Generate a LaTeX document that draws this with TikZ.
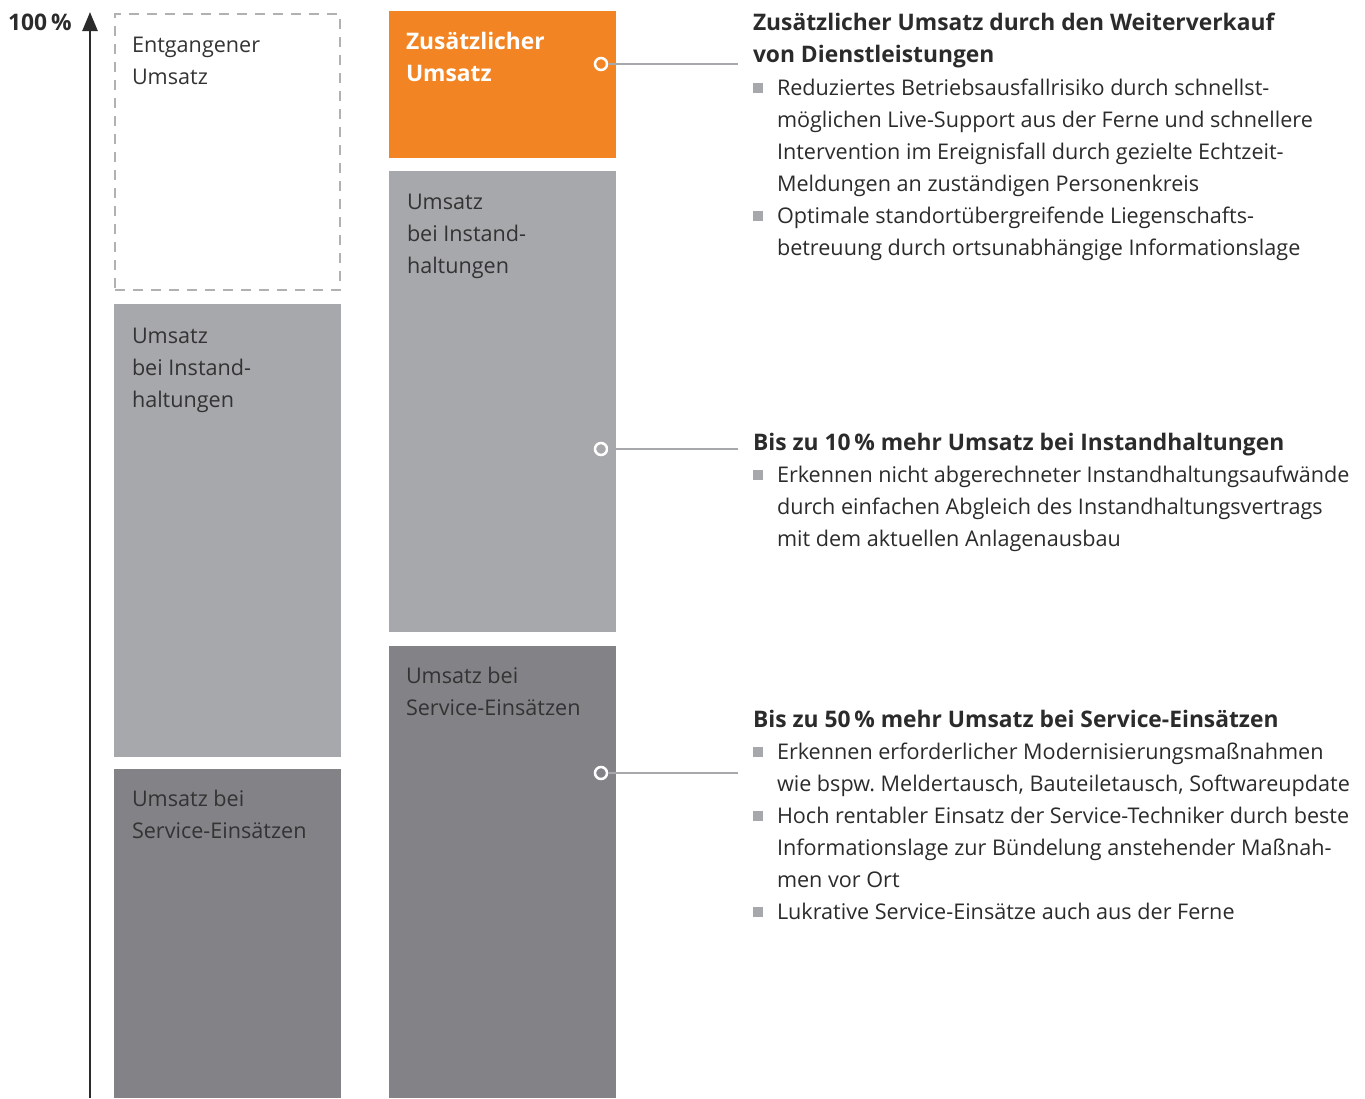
\documentclass[tikz,border=0pt]{standalone}
\usepackage{fontspec}
\setmainfont{Open Sans}
\usetikzlibrary{arrows.meta}
\definecolor{orng}{HTML}{F28423}
\definecolor{lgray}{HTML}{A7A8AB}
\definecolor{dgray}{HTML}{838387}
\definecolor{dash}{HTML}{B0B1B3}
\definecolor{txt}{HTML}{2B2B2B}
\definecolor{btxt}{HTML}{333333}
\frenchspacing
\newcommand\txtlines[5]{%
  \foreach \t [count=\i] in {#5}
    \node[txtline,#4,name=#1-\i] at (#2, #3+32*\i-32) {\t};}
\begin{document}
\begin{tikzpicture}[x=1pt,y=-1pt,
  box/.style={anchor=north west, inner sep=0, outer sep=0, minimum width=227pt},
  txtline/.style={anchor=base west, inner sep=0, outer sep=0, text=txt, font=\fontsize{21.6}{32}\selectfont},
  head/.style={font=\fontsize{22.8}{32}\selectfont\bfseries},
  bul/.style={fill=lgray, minimum size=10pt, inner sep=0, outer sep=0},
  dot/.style={circle, draw=white, line width=2.5pt, fill=none, minimum size=12pt, inner sep=0},
  conn/.style={draw=lgray, line width=2pt}]
\useasboundingbox (0,0) rectangle (1365,1098);
% axis
\coordinate (ab) at (90,1098);
\coordinate (at) at (90,12);
\draw[line width=2.5pt, draw=txt, -{Triangle[width=15pt,length=19pt,fill=txt]}] (ab) -- (at);
\node[anchor=base west, inner sep=0, text=txt, font=\fontsize{22.8}{32}\selectfont\bfseries] (pct) at (8,30) {100\,\%};
% left column
\node[box, draw=dash, dash pattern=on 10pt off 8pt, line width=2pt, minimum width=225pt, minimum height=276pt] (lost) at (115,14) {};
\node[box, fill=lgray, minimum height=453pt] (l2) at (114,304) {};
\node[box, fill=dgray, minimum height=329pt] (l3) at (114,769) {};
% middle column
\node[box, fill=orng, minimum height=147pt] (m1) at (389,11) {};
\node[box, fill=lgray, minimum height=461pt] (m2) at (389,171) {};
\node[box, fill=dgray, minimum height=452pt] (m3) at (389,646) {};
% box texts
\txtlines{tl}{132}{52}{text=btxt}{Entgangener,Umsatz}
\txtlines{tg}{132}{343}{text=btxt}{Umsatz,bei Instand-,haltungen}
\txtlines{td}{132}{806}{text=btxt}{Umsatz bei,Service-Einsätzen}
\txtlines{to}{406}{49}{text=white,head}{Zusätzlicher,Umsatz}
\txtlines{tm}{407}{209}{text=btxt}{Umsatz,bei Instand-,haltungen}
\txtlines{tn}{406}{683}{text=btxt}{Umsatz bei,Service-Einsätzen}
% connectors
\node[dot] (c1) at (601,64) {};
\node[dot] (c2) at (601,449) {};
\node[dot] (c3) at (601,773) {};
\coordinate (e1) at (738,64);
\coordinate (e2) at (738,449);
\coordinate (e3) at (738,773);
\draw[conn] (c1) -- (e1);
\draw[conn] (c2) -- (e2);
\draw[conn] (c3) -- (e3);
% right texts
\txtlines{h1}{753}{30}{head}{Zusätzlicher Umsatz durch den Weiterverkauf,von Dienstleistungen}
\txtlines{a}{777}{95}{}{Reduziertes Betriebsausfallrisiko durch schnellst-,möglichen Live-Support aus der Ferne und schnellere,Intervention im Ereignisfall durch gezielte Echtzeit-,Meldungen an zuständigen Personenkreis,Optimale standortübergreifende Liegenschafts-,betreuung durch ortsunabhängige Informationslage}
\node[bul] (b1) at (758,88) {};
\node[bul] (b2) at (758,216) {};
\txtlines{h2}{753}{450}{head}{Bis zu 10\,\% mehr Umsatz bei Instandhaltungen}
\txtlines{b}{777}{482}{}{Erkennen nicht abgerechneter Instandhaltungsaufwände,durch einfachen Abgleich des Instandhaltungsvertrags,mit dem aktuellen Anlagenausbau}
\node[bul] (b3) at (758,475) {};
\txtlines{h3}{753}{727}{head}{Bis zu 50\,\% mehr Umsatz bei Service-Einsätzen}
\txtlines{c}{777}{759}{}{Erkennen erforderlicher Modernisierungsmaßnahmen,{wie bspw. Meldertausch, Bauteiletausch, Softwareupdate},Hoch rentabler Einsatz der Service-Techniker durch beste,Informationslage zur Bündelung anstehender Maßnah-,men vor Ort,Lukrative Service-Einsätze auch aus der Ferne}
\node[bul] (b4) at (758,752) {};
\node[bul] (b5) at (758,816) {};
\node[bul] (b6) at (758,912) {};
\end{tikzpicture}
\end{document}
